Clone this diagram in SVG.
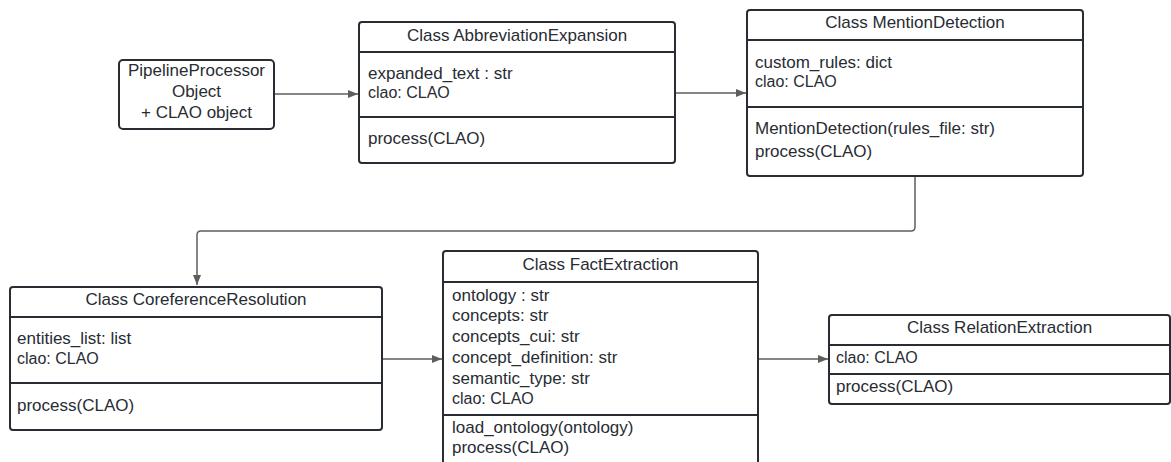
<svg xmlns="http://www.w3.org/2000/svg" width="1171" height="462" viewBox="0 0 1171 462">
<style>
.box{fill:#fff;stroke:#282c33;stroke-width:2}
.div{stroke:#282c33;stroke-width:2}
.t{font-family:"Liberation Sans",Arial,sans-serif;font-size:17px;fill:#282c33}
.s{font-size:16px}
.c{text-anchor:middle}
.con{fill:none;stroke:#5e5e5e;stroke-width:1.5}
</style>
<defs>
<marker id="ah" viewBox="0 0 10 8" refX="10" refY="4" markerWidth="10" markerHeight="8" markerUnits="userSpaceOnUse" orient="auto">
<path d="M0,0 L10,4 L0,8 Z" fill="#5e5e5e"/>
</marker>
</defs>
<rect width="1171" height="462" fill="#fff"/>
<g id="connectors">
<line class="con" x1="274" y1="94" x2="358" y2="94" marker-end="url(#ah)"/>
<line class="con" x1="675" y1="93" x2="746" y2="93" marker-end="url(#ah)"/>
<path class="con" d="M915,176 V227 Q915,231 911,231 H201 Q197,231 197,235 V285" marker-end="url(#ah)"/>
<line class="con" x1="382" y1="359" x2="442" y2="359" marker-end="url(#ah)"/>
<line class="con" x1="758" y1="359" x2="828" y2="359" marker-end="url(#ah)"/>
</g>
<g id="pipeline">
<rect class="box" x="119" y="60" width="155" height="69" rx="4"/>
<text class="t c" x="196.5" y="76">PipelineProcessor</text>
<text class="t c" x="196.5" y="97">Object</text>
<text class="t c" x="196.5" y="118">+ CLAO object</text>
</g>
<g id="abbreviation">
<rect class="box" x="359" y="22" width="316" height="141" rx="3"/>
<line class="div" x1="359" y1="52" x2="675" y2="52"/>
<line class="div" x1="359" y1="117" x2="675" y2="117"/>
<text class="t c" x="517" y="41">Class AbbreviationExpansion</text>
<text class="t" x="368" y="79">expanded_text : str</text>
<text class="t s" x="368" y="98">clao: CLAO</text>
<text class="t" x="368" y="144">process(CLAO)</text>
</g>
<g id="mention">
<rect class="box" x="747" y="10" width="336" height="166" rx="3"/>
<line class="div" x1="747" y1="40" x2="1083" y2="40"/>
<line class="div" x1="747" y1="107" x2="1083" y2="107"/>
<text class="t c" x="915" y="28">Class MentionDetection</text>
<text class="t" x="755" y="68">custom_rules: dict</text>
<text class="t s" x="755" y="87">clao: CLAO</text>
<text class="t" x="755" y="134">MentionDetection(rules_file: str)</text>
<text class="t" x="755" y="157">process(CLAO)</text>
</g>
<g id="coreference">
<rect class="box" x="10" y="287" width="372" height="143" rx="3"/>
<line class="div" x1="10" y1="317" x2="382" y2="317"/>
<line class="div" x1="10" y1="383" x2="382" y2="383"/>
<text class="t c" x="196" y="305">Class CoreferenceResolution</text>
<text class="t" x="17" y="344">entities_list: list</text>
<text class="t s" x="17" y="364">clao: CLAO</text>
<text class="t" x="17" y="411">process(CLAO)</text>
</g>
<g id="fact">
<rect class="box" x="443" y="251" width="315" height="220" rx="3"/>
<line class="div" x1="443" y1="282" x2="758" y2="282"/>
<line class="div" x1="443" y1="415" x2="758" y2="415"/>
<text class="t c" x="600.5" y="270">Class FactExtraction</text>
<text class="t" x="452" y="301">ontology : str</text>
<text class="t" x="452" y="321">concepts: str</text>
<text class="t" x="452" y="342">concepts_cui: str</text>
<text class="t" x="452" y="363">concept_definition: str</text>
<text class="t" x="452" y="384">semantic_type: str</text>
<text class="t s" x="452" y="404">clao: CLAO</text>
<text class="t" x="452" y="433">load_ontology(ontology)</text>
<text class="t" x="452" y="453">process(CLAO)</text>
</g>
<g id="relation">
<rect class="box" x="829" y="315" width="341" height="89" rx="3"/>
<line class="div" x1="829" y1="345" x2="1170" y2="345"/>
<line class="div" x1="829" y1="374" x2="1170" y2="374"/>
<text class="t c" x="999.5" y="333">Class RelationExtraction</text>
<text class="t s" x="836" y="363">clao: CLAO</text>
<text class="t" x="836" y="392">process(CLAO)</text>
</g>
</svg>
